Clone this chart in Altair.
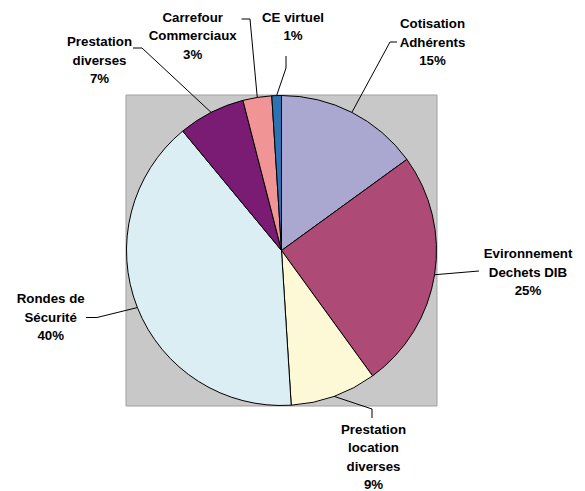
import math
import altair as alt
import pandas as pd

# ---- data ----
categories = ["Cotisation Adhérents", "Evironnement Dechets DIB", "Prestation location diverses",
              "Rondes de Sécurité", "Prestation diverses", "Carrefour Commerciaux", "CE virtuel"]
label_lines = [["Cotisation", "Adhérents"], ["Evironnement", "Dechets DIB"],
               ["Prestation", "location", "diverses"], ["Rondes de", "Sécurité"],
               ["Prestation", "diverses"], ["Carrefour", "Commerciaux"], ["CE virtuel"]]
values = [15, 25, 9, 40, 7, 3, 1]
colors = ["#AAA8D0", "#AD4A76", "#FDF9D7", "#DAEEF3", "#7B1C74", "#F09496", "#2C73B6"]

# ---- layout (page pixel coordinates) ----
OFF = 8
W, H = 569, 483
CX, CY, R = 281.5, 250.5, 155
label_x = [432.5, 528, 373.5, 50.7, 99.5, 192.7, 293]
label_y = [24, 254, 429.5, 299, 42, 17.5, 17.5]   # centre of first text line
# leader line points after the pie-edge point
leader_pts = [
    [(390, 42), (397, 42)],
    [(479, 271)],
    [(372, 409), (372, 418)],
    [(97, 317.5), (86, 317.5)],
    [(142, 48), (133, 48)],
    [(250, 19), (241.5, 19)],
    [(286, 68), (286, 56)],
]

total = sum(values)
pie_df = pd.DataFrame({
    "cat": categories,
    "value": values,
    "order": list(range(len(values))),
})

text_rows = []
line_rows = []
cum = 0
for i, (cat, v) in enumerate(zip(categories, values)):
    mid = (cum + v / 2) / total * 2 * math.pi
    cum += v
    ex = CX + R * math.sin(mid)
    ey = CY - R * math.cos(mid)
    pts = [(ex, ey)] + leader_pts[i]
    for j, (px, py) in enumerate(pts):
        line_rows.append({"cat": cat, "seq": j, "x": px - OFF, "y": py - OFF})
    pct = f"{round(v / total * 100)}%"
    text_rows.append({"cat": cat, "label": "\n".join(label_lines[i] + [pct]),
                      "x": label_x[i] - OFF, "y": label_y[i] - OFF})

text_df = pd.DataFrame(text_rows)
line_df = pd.DataFrame(line_rows)

xs = alt.Scale(domain=[0, W], range=[0, W])
ys = alt.Scale(domain=[0, H], range=[0, H])

bg = alt.Chart(pd.DataFrame({"a": [0]})).mark_rect(
    fill="#C8C8C8", stroke="#A0A0A0", strokeWidth=1
).encode(
    x=alt.value(126 - OFF), x2=alt.value(437 - OFF),
    y=alt.value(95 - OFF), y2=alt.value(406 - OFF),
)

pie = alt.Chart(pie_df).mark_arc(radius=R, stroke="black", strokeWidth=1).encode(
    theta=alt.Theta("value:Q", stack=True),
    order=alt.Order("order:Q", sort="ascending"),
    color=alt.Color("cat:N", scale=alt.Scale(domain=categories, range=colors), legend=None),
    x=alt.value(CX - OFF),
    y=alt.value(CY - OFF),
)

leaders = alt.Chart(line_df).mark_line(color="black", strokeWidth=1).encode(
    x=alt.X("x:Q", scale=xs, axis=None),
    y=alt.Y("y:Q", scale=ys, axis=None),
    detail="cat:N",
    order="seq:Q",
)

labels = alt.Chart(text_df).mark_text(
    font="Liberation Sans", fontWeight="bold", fontSize=13.3, lineBreak="\n",
    lineHeight=18.5, align="center", baseline="middle", color="black",
).encode(
    x=alt.X("x:Q", scale=xs, axis=None),
    y=alt.Y("y:Q", scale=ys, axis=None),
    text="label:N",
)

chart = alt.layer(bg, pie, leaders, labels).properties(
    width=W, height=H, padding=0, autosize=alt.AutoSizeParams(type="none"),
    background="white",
).configure_view(stroke=None)

chart.save("out.html", embed_options={"renderer": "svg", "actions": False})
